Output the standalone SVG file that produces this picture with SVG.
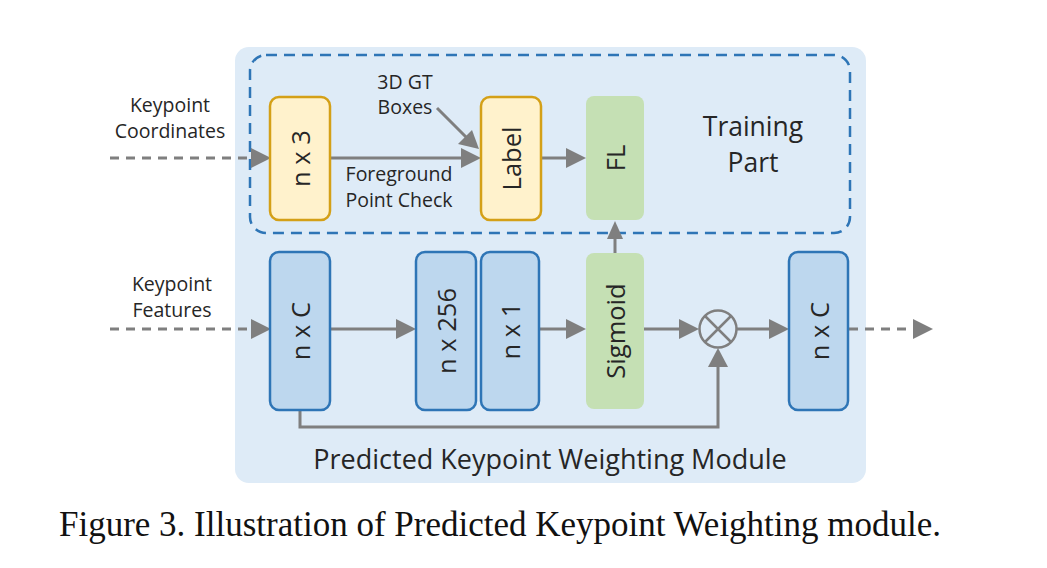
<svg xmlns="http://www.w3.org/2000/svg" width="1047" height="568" viewBox="0 0 1047 568">
<style>
text{font-family:"Open Sans","Liberation Sans",sans-serif;fill:#262626}
.lbl{font-size:19.5px;text-anchor:middle}
.big{font-size:26.5px;text-anchor:middle}
.box{font-size:25.5px;text-anchor:middle;dominant-baseline:central}
.yel{fill:#fff2cc;stroke:#d4a017;stroke-width:2.5}
.blu{fill:#bdd7ee;stroke:#2e75b6;stroke-width:2.5}
.grn{fill:#c5e0b4}
.ln{stroke:#7f7f7f;stroke-width:3;fill:none}
.dl{stroke:#7f7f7f;stroke-width:3;fill:none;stroke-dasharray:9 7}
.hd{fill:#7f7f7f}
</style>
<rect width="1047" height="568" fill="#ffffff"/>
<g id="module">
<rect x="235" y="47" width="631" height="436" rx="14" fill="#deebf7"/>
<text class="big" x="550" y="469" style="font-size:27px">Predicted Keypoint Weighting Module</text>
</g>
<g id="training">
<rect x="250" y="55" width="600" height="178" rx="16" fill="none" stroke="#2e75b6" stroke-width="2.5" stroke-dasharray="11 7"/>
<text class="big" x="753" y="136">Training</text>
<text class="big" x="753" y="172">Part</text>
</g>
<g id="connectors">
<path class="dl" d="M110,158 H256"/>
<path class="hd" d="M251,148 L271,158 L251,168 Z"/>
<path class="ln" d="M330,158 H466"/>
<path class="hd" d="M461,148 L481,158 L461,168 Z"/>
<path class="ln" d="M437,108 L466,137"/>
<path class="hd" d="M458,144 L479,149 L472,130 Z"/>
<path class="ln" d="M541,158 H570"/>
<path class="hd" d="M566,148 L586,158 L566,168 Z"/>
<path class="dl" d="M110,329 H256"/>
<path class="hd" d="M251,319 L271,329 L251,339 Z"/>
<path class="ln" d="M330,329 H400"/>
<path class="hd" d="M396,319 L416,329 L396,339 Z"/>
<path class="ln" d="M539,329 H570"/>
<path class="hd" d="M566,319 L586,329 L566,339 Z"/>
<path class="ln" d="M615,253 V236"/>
<path class="hd" d="M607,239 L615,221 L623,239 Z"/>
<path class="ln" d="M644,329 H684"/>
<path class="hd" d="M679,319 L699,329 L679,339 Z"/>
<path class="ln" d="M737,329 H774"/>
<path class="hd" d="M769,319 L789,329 L769,339 Z"/>
<path class="ln" d="M300,410 V427 H718 V362"/>
<path class="hd" d="M708,367 L718,348 L728,367 Z"/>
<path class="dl" d="M849,329 H916"/>
<path class="hd" d="M913,319 L933,329 L913,339 Z"/>
</g>
<g id="kp-coords">
<text class="lbl" x="170" y="112">Keypoint</text>
<text class="lbl" x="170" y="138">Coordinates</text>
</g>
<g id="gt-boxes">
<text class="lbl" x="405" y="89">3D GT</text>
<text class="lbl" x="405" y="114">Boxes</text>
</g>
<g id="fg-check">
<text class="lbl" x="399" y="181">Foreground</text>
<text class="lbl" x="399" y="207">Point Check</text>
</g>
<g id="kp-feat">
<text class="lbl" x="172" y="291">Keypoint</text>
<text class="lbl" x="172" y="317">Features</text>
</g>
<g id="n3">
<rect class="yel" x="270" y="97" width="60" height="123" rx="9"/>
<text class="box" transform="translate(300,158.5) rotate(-90)">n x 3</text>
</g>
<g id="label">
<rect class="yel" x="481" y="97" width="60" height="123" rx="9"/>
<text class="box" transform="translate(511,158.5) rotate(-90)">Label</text>
</g>
<g id="fl">
<rect class="grn" x="586" y="96" width="58" height="124" rx="8"/>
<text class="box" transform="translate(615,158) rotate(-90)">FL</text>
</g>
<g id="nC1">
<rect class="blu" x="270" y="252" width="60" height="158" rx="9"/>
<text class="box" transform="translate(300,331) rotate(-90)">n x C</text>
</g>
<g id="n256">
<rect class="blu" x="416" y="252" width="60" height="158" rx="9"/>
<text class="box" transform="translate(446,331) rotate(-90)">n x 256</text>
</g>
<g id="n1">
<rect class="blu" x="481" y="252" width="58" height="158" rx="9"/>
<text class="box" transform="translate(510,331) rotate(-90)">n x 1</text>
</g>
<g id="sigmoid">
<rect class="grn" x="586" y="253" width="58" height="156" rx="8"/>
<text class="box" transform="translate(615,331) rotate(-90)">Sigmoid</text>
</g>
<g id="mult">
<circle cx="718" cy="329" r="18.5" fill="none" stroke="#7f7f7f" stroke-width="2.5"/>
<path d="M705,316 L731,342 M731,316 L705,342" stroke="#7f7f7f" stroke-width="2.5"/>
</g>
<g id="nC2">
<rect class="blu" x="789" y="252" width="59" height="158" rx="9"/>
<text class="box" transform="translate(818.5,331) rotate(-90)">n x C</text>
</g>
<g id="caption">
<text x="500" y="536" style="font-family:'Liberation Serif',serif;font-size:35px;text-anchor:middle;fill:#111">Figure 3. Illustration of Predicted Keypoint Weighting module.</text>
</g>
</svg>
